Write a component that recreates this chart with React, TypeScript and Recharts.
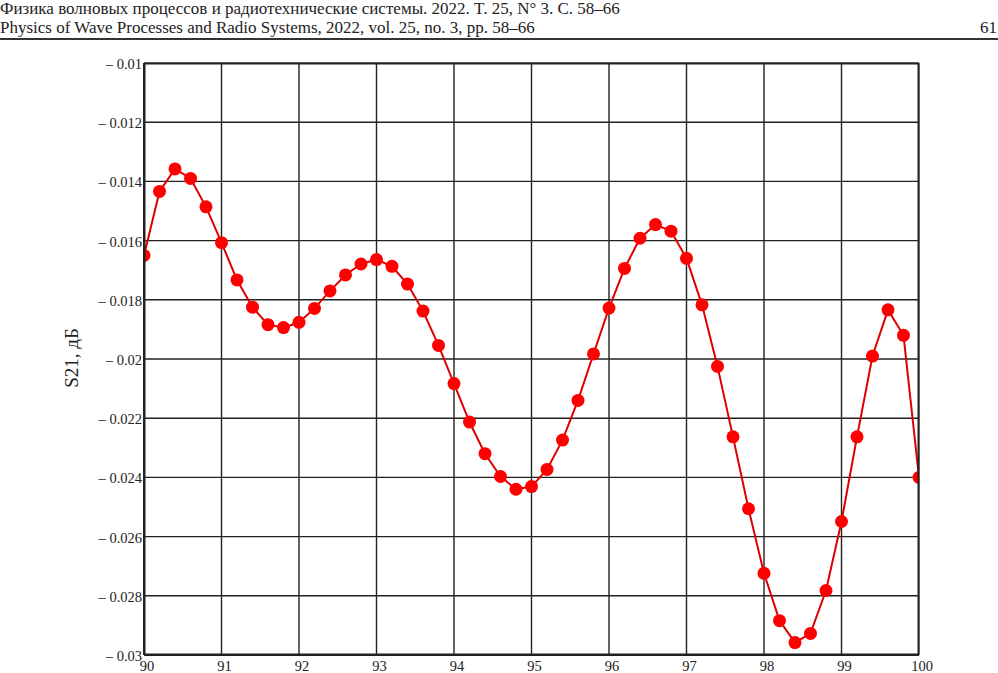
import React from 'react';
import { LineChart, Line, XAxis, YAxis, CartesianGrid, Label } from 'recharts';

const freq = [
  90, 90.2, 90.4, 90.6, 90.8, 91, 91.2, 91.4, 91.6, 91.8,
  92, 92.2, 92.4, 92.6, 92.8, 93, 93.2, 93.4, 93.6, 93.8,
  94, 94.2, 94.4, 94.6, 94.8, 95, 95.2, 95.4, 95.6, 95.8,
  96, 96.2, 96.4, 96.6, 96.8, 97, 97.2, 97.4, 97.6, 97.8,
  98, 98.2, 98.4, 98.6, 98.8, 99, 99.2, 99.4, 99.6, 99.8,
  100,
];

const s21 = [
  -0.0165, -0.01434, -0.01358, -0.0139, -0.01486, -0.01607, -0.01733, -0.01825, -0.01884, -0.01894,
  -0.01876, -0.01829, -0.0177, -0.01716, -0.01679, -0.01664, -0.01687, -0.01747, -0.01838, -0.01954,
  -0.02083, -0.02213, -0.0232, -0.02397, -0.0244, -0.02431, -0.02373, -0.02274, -0.0214, -0.01983,
  -0.01828, -0.01694, -0.01592, -0.01546, -0.01568, -0.0166, -0.01817, -0.02025, -0.02263, -0.02506,
  -0.02724, -0.02884, -0.02958, -0.02927, -0.02782, -0.02549, -0.02263, -0.0199, -0.01834, -0.0192,
  -0.024,
];

const xTicks = [90, 91, 92, 93, 94, 95, 96, 97, 98, 99, 100];
const yTicks = [-0.03, -0.028, -0.026, -0.024, -0.022, -0.02, -0.018, -0.016, -0.014, -0.012, -0.01];

const headerRu = 'Физика волновых процессов и радиотехнические системы. 2022. T. 25, N° 3. C. 58–66';
const headerEn = 'Physics of Wave Processes and Radio Systems, 2022, vol. 25, no. 3, pp. 58–66';
const pageNo = '61';
const yTitle = 'S21, дБ';

const data = freq.map((f, i) => ({ f, s: s21[i] }));

const serif = '"Liberation Serif", "DejaVu Serif", serif';

const fmtY = (v: number) => '– ' + String(Math.abs(v));

const XTick = (props: any) => {
  const { x, payload } = props;
  return (
    <text x={x + 3} y={671} textAnchor="middle" fontFamily={serif} fontSize={14.5} fill="#222">
      {payload.value}
    </text>
  );
};

const YTick = (props: any) => {
  const { y, payload } = props;
  return (
    <text x={142} y={y + 1} textAnchor="end" dominantBaseline="central" fontFamily={serif} fontSize={14.5} fill="#222">
      {fmtY(payload.value)}
    </text>
  );
};

const headStyle: React.CSSProperties = {
  position: 'absolute',
  left: 0,
  fontSize: 17,
  lineHeight: '18px',
  whiteSpace: 'nowrap',
};

export default function App() {
  return (
    <div
      style={{
        position: 'absolute',
        left: 0,
        top: 0,
        width: 998,
        height: 673,
        overflow: 'hidden',
        background: '#fff',
        fontFamily: serif,
        color: '#222',
      }}
    >
      <div style={{ ...headStyle, top: 0 }}>{headerRu}</div>
      <div style={{ ...headStyle, top: 19 }}>{headerEn}</div>
      <div style={{ ...headStyle, left: undefined, right: 1, top: 19 }}>{pageNo}</div>
      <div style={{ position: 'absolute', left: 0, top: 38, width: 998, height: 2, background: '#333' }} />

      <div style={{ position: 'absolute', left: 0, top: 0 }}>
        <LineChart width={998} height={673} data={data} margin={{ top: 63, right: 79, bottom: 0, left: 84 }}>
          <CartesianGrid stroke="#222" strokeWidth={1.4} />
          <XAxis
            dataKey="f"
            type="number"
            domain={[90, 100]}
            ticks={xTicks}
            allowDataOverflow
            height={18}
            tickLine={false}
            axisLine={{ stroke: '#222', strokeWidth: 2 }}
            tick={<XTick />}
            interval={0}
          />
          <YAxis
            type="number"
            domain={[-0.03, -0.01]}
            ticks={yTicks}
            allowDataOverflow
            width={60}
            tickLine={false}
            axisLine={{ stroke: '#222', strokeWidth: 2 }}
            tick={<YTick />}
            interval={0}
          >
            <Label
              value={yTitle}
              content={() => (
                <text
                  x={78}
                  y={358}
                  transform="rotate(-90 78 358)"
                  textAnchor="middle"
                  fontFamily={serif}
                  fontSize={19}
                  fill="#222"
                >
                  {yTitle}
                </text>
              )}
            />
          </YAxis>
          <Line
            type="linear"
            dataKey="s"
            stroke="#dd0000"
            strokeWidth={2}
            dot={{ r: 6.5, fill: '#ff0000', stroke: 'none' }}
            isAnimationActive={false}
          />
        </LineChart>
      </div>
      <div
        style={{
          position: 'absolute',
          left: 144,
          top: 63,
          width: 775,
          height: 592,
          boxShadow: 'inset 0 0 0 1.5px #222',
          pointerEvents: 'none',
        }}
      />
    </div>
  );
}
